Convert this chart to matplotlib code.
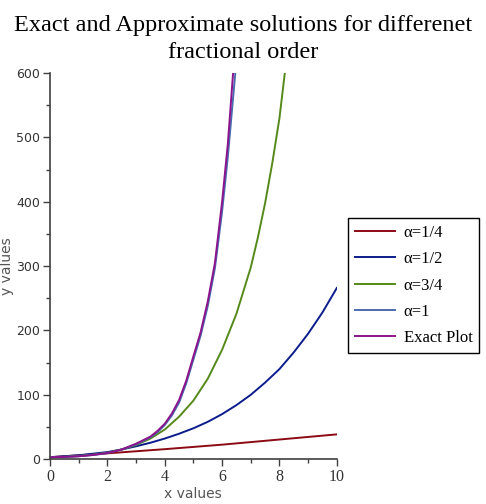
import matplotlib
matplotlib.use("Agg")
import matplotlib.pyplot as plt
from matplotlib.ticker import MultipleLocator

# values
x_q = [0, 2, 4, 6, 8, 10]
y_q = [3, 9, 15.5, 22.5, 30.5, 38.5]          # alpha = 1/4

x_h = [0, 0.5, 1, 1.5, 2, 2.5, 3, 3.5, 4, 4.5, 5, 5.5, 6, 6.5, 7, 7.5, 8, 8.5, 9, 9.5, 10]
y_h = [3, 4.5, 6, 8.5, 11, 15, 20, 25.5, 32, 39.5, 48, 58, 70, 84, 100, 119, 140, 166, 195, 228, 266]   # alpha = 1/2

x_t = [0, 0.5, 1, 1.5, 2, 2.5, 3, 3.5, 4, 4.5, 5, 5.5, 6, 6.5, 7, 7.25, 7.5, 7.75, 8, 8.2]
y_t = [3, 3.5, 5, 7, 10, 15, 22, 32, 46, 66, 91, 125, 170, 226, 298, 345, 398, 460, 530, 605]   # alpha = 3/4

x_one = [0, 0.5, 1, 1.5, 2, 2.5, 3, 3.5, 3.75, 4, 4.25, 4.5, 4.75, 5, 5.25, 5.5, 5.75, 6, 6.2, 6.5]
y_one = [3, 3.5, 4.5, 6.5, 9.5, 15, 23, 34, 42, 53, 68, 88, 118, 155, 192, 238, 297, 385, 470, 620]   # alpha = 1

x_ex = [0, 0.5, 1, 1.5, 2, 2.5, 3, 3.5, 3.75, 4, 4.25, 4.5, 4.75, 5, 5.25, 5.5, 5.75, 6, 6.2, 6.4]
y_ex = [3, 3.5, 4.5, 6.5, 9.5, 15, 24, 35, 44, 55, 71, 92, 122, 160, 197, 245, 305, 400, 490, 610]   # exact

labels = ["α=1/4", "α=1/2", "α=3/4", "α=1", "Exact Plot"]
colors = ["#8c0a14", "#0c1c8c", "#55891a", "#4a6cb0", "#8c148c"]

fig = plt.figure(figsize=(4.86, 5.04), dpi=100)
ax = fig.add_axes([0.103, 0.089, 0.590, 0.766])

series = [(x_q, y_q), (x_h, y_h), (x_t, y_t), (x_one, y_one), (x_ex, y_ex)]
for (xs, ys), lab, c in zip(series, labels, colors):
    ax.plot(xs, ys, color=c, lw=1.4, label=lab)

ax.set_xlim(0, 10)
ax.set_ylim(0, 600)
ax.xaxis.set_major_locator(MultipleLocator(2))
ax.xaxis.set_minor_locator(MultipleLocator(1))
ax.yaxis.set_major_locator(MultipleLocator(100))
ax.yaxis.set_minor_locator(MultipleLocator(50))
for s in ["top", "right"]:
    ax.spines[s].set_visible(False)
for s in ["left", "bottom"]:
    ax.spines[s].set_color("#404040")
    ax.spines[s].set_linewidth(1.2)
ax.tick_params(which="both", direction="out", color="#404040", width=1)
ax.tick_params(which="major", length=5)
ax.tick_params(which="minor", length=3)
ax.tick_params(axis="y", labelsize=9, labelcolor="#333333", pad=2)
ax.tick_params(axis="x", labelsize=11.5, labelcolor="#333333", pad=2)
for t in ax.get_xticklabels():
    t.set_family("Liberation Serif")

fig.text(0.397, 0.034, "x values", ha="center", va="top", fontsize=10, color="#555555")
fig.text(0.0, 0.472, "y values", ha="left", va="center", rotation=90, fontsize=10, color="#555555")

fig.text(0.5, 0.938, "Exact and Approximate solutions for differenet",
         ha="center", va="baseline", fontsize=17.5, family="Liberation Serif")
fig.text(0.5, 0.885, "fractional order",
         ha="center", va="baseline", fontsize=17.5, family="Liberation Serif")

leg = ax.legend(loc="upper left", bbox_to_anchor=(0.716, 0.567), bbox_transform=fig.transFigure,
                prop={"family": "Liberation Serif", "size": 12}, fancybox=False, framealpha=1,
                edgecolor="black", handlelength=2.45, handletextpad=0.5, borderpad=0.4,
                labelspacing=0.62, borderaxespad=0)
leg.get_frame().set_linewidth(1.0)

fig.savefig("out.png", dpi=100)
